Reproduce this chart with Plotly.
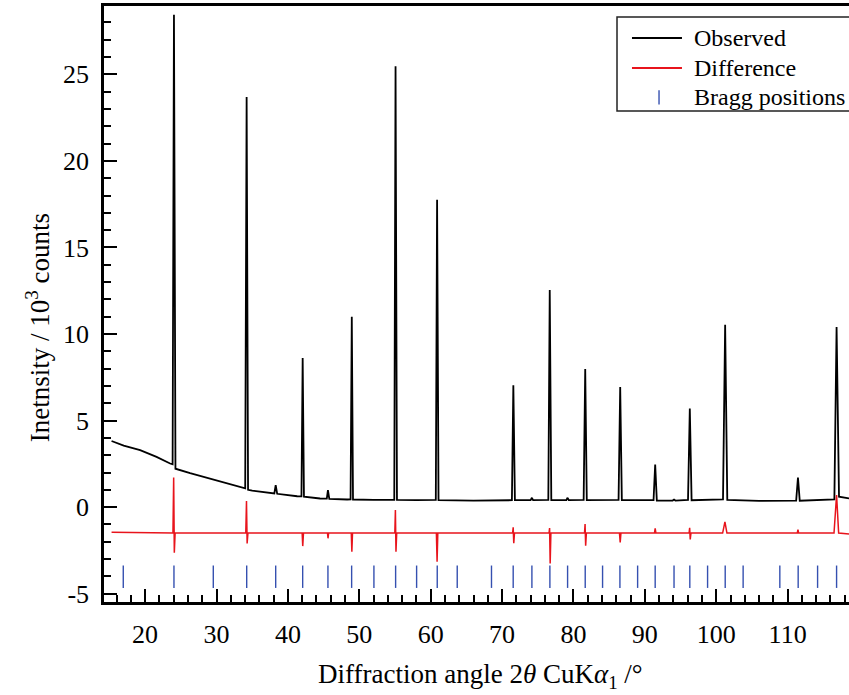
import plotly.graph_objects as go

# Observed pattern (2θ in degrees, intensity in 10^3 counts)
obs_x = [15.3, 17.0, 19.3, 21.6, 23.5, 23.85, 24.04, 24.25, 26.3, 30.9, 33.7, 34.02, 34.22, 34.42,
         35.0, 37.5, 38.1, 38.29, 38.5, 41.3, 41.9, 42.07, 42.25, 44.5, 45.45, 45.61, 45.8, 48.3,
         48.78, 48.95, 49.12, 52.0, 54.9, 55.08, 55.28, 58.0, 60.72, 60.9, 61.1, 66.0, 71.38, 71.58,
         71.8, 74.0, 74.18, 74.35, 76.48, 76.68, 76.9, 79.0, 79.18, 79.35, 81.43, 81.65, 81.87,
         86.32, 86.55, 86.78, 91.22, 91.45, 91.68, 93.9, 94.09, 94.28, 96.05, 96.3, 96.55, 100.95,
         101.25, 101.55, 106.0, 111.2, 111.45, 111.7, 116.55, 116.86, 117.2, 118.6]
obs_y = [3.82, 3.55, 3.29, 2.90, 2.52, 2.48, 28.45, 2.22, 1.96, 1.44, 1.10, 1.08, 23.7, 1.0,
         0.95, 0.81, 0.79, 1.27, 0.77, 0.63, 0.62, 8.61, 0.60, 0.50, 0.49, 0.98, 0.48, 0.44,
         0.45, 11.0, 0.44, 0.42, 0.42, 25.47, 0.42, 0.40, 0.42, 17.76, 0.40, 0.38, 0.40, 7.04,
         0.40, 0.40, 0.54, 0.40, 0.42, 12.55, 0.40, 0.40, 0.54, 0.40, 0.42, 7.98, 0.40,
         0.42, 6.94, 0.40, 0.40, 2.46, 0.38, 0.38, 0.44, 0.38, 0.42, 5.69, 0.40, 0.45,
         10.53, 0.42, 0.36, 0.38, 1.71, 0.37, 0.45, 10.4, 0.60, 0.50]

# Difference curve
diff_x = [15.3, 23.9, 24.0, 24.09, 24.2, 34.1, 34.2, 34.29, 34.4, 42.0, 42.08, 42.18, 45.55, 45.62,
          45.7, 48.88, 48.96, 49.05, 54.98, 55.06, 55.14, 55.24, 60.8, 60.9, 61.0, 71.48, 71.56,
          71.64, 71.74, 76.58, 76.66, 76.74, 76.84, 81.55, 81.63, 81.71, 81.81, 86.45, 86.55,
          86.65, 91.35, 91.45, 91.55, 96.2, 96.28, 96.36, 96.46, 100.9, 101.22, 101.5, 111.35,
          111.45, 111.55, 116.5, 116.86, 117.15, 118.6]
diff_y = [-1.45, -1.5, 1.71, -2.63, -1.5, -1.5, 0.36, -2.1, -1.5, -1.5, -2.25, -1.5, -1.5, -1.8,
          -1.5, -1.5, -2.58, -1.5, -1.5, -0.17, -2.58, -1.5, -1.5, -3.15, -1.5, -1.5, -1.17,
          -2.09, -1.5, -1.5, -1.21, -3.25, -1.5, -1.5, -0.98, -2.23, -1.5, -1.5, -2.04,
          -1.5, -1.5, -1.23, -1.5, -1.5, -1.2, -1.86, -1.5, -1.5, -0.85, -1.5, -1.5,
          -1.3, -1.5, -1.5, 0.7, -1.5, -1.55]

# Bragg reflection positions
bragg_x = [16.94, 24.04, 29.55, 34.23, 38.29, 42.07, 45.61, 48.93, 52.05, 55.09, 58.03, 60.92,
           63.72, 68.52, 71.56, 74.18, 76.70, 79.18, 81.65, 84.08, 86.51, 88.99, 91.45, 94.09,
           96.30, 98.79, 101.26, 103.77, 108.91, 111.48, 114.2, 116.86]
bragg_level = -4.02

x_ticks = [20, 30, 40, 50, 60, 70, 80, 90, 100, 110]
y_ticks = [-5, 0, 5, 10, 15, 20, 25]
y_ticktext = ["-5", "0", "5", "10", "15", "20", "25"]

legend_names = ["Observed", "Difference", "Bragg positions"]

FONT = "Liberation Serif, Times New Roman, serif"
BLACK = "black"
RED = "#e8141c"
BLUE = "#3550b0"

fig = go.Figure()
fig.add_trace(go.Scatter(x=obs_x, y=obs_y, mode="lines", name=legend_names[0],
                         line=dict(color=BLACK, width=1.8), showlegend=False))
fig.add_trace(go.Scatter(x=diff_x, y=diff_y, mode="lines", name=legend_names[1],
                         line=dict(color=RED, width=1.5), showlegend=False))
fig.add_trace(go.Scatter(x=bragg_x, y=[bragg_level] * len(bragg_x), mode="markers",
                         name=legend_names[2], showlegend=False,
                         marker=dict(symbol="line-ns", size=16, color=BLUE,
                                     line=dict(color=BLUE, width=1.4))))

axis_common = dict(showline=True, linecolor="black", linewidth=2.5, ticks="inside",
                   ticklen=13, tickwidth=2.2, tickcolor="black", showgrid=False, zeroline=False,
                   tickfont=dict(family=FONT, size=26, color="black"), ticklabelstandoff=7)

fig.update_xaxes(range=[14.24, 118.6], tickmode="array", tickvals=x_ticks,
                 ticktext=[str(v) for v in x_ticks], mirror=True,
                 minor=dict(ticks="inside", ticklen=7, tickwidth=2, tickcolor="black",
                            dtick=2, tick0=0, showgrid=False),
                 **axis_common)
fig.update_yaxes(range=[-5.48, 28.95], tickmode="array", tickvals=y_ticks,
                 ticktext=y_ticktext, mirror=False,
                 minor=dict(ticks="inside", ticklen=7, tickwidth=2, tickcolor="black",
                            dtick=1, tick0=0, showgrid=False),
                 **axis_common)

fig.add_annotation(text="Inetnsity / 10<sup>3</sup> counts", textangle=-90,
                   xref="paper", yref="paper", x=-0.0886, y=0.461,
                   xanchor="center", yanchor="middle", showarrow=False,
                   font=dict(family=FONT, size=27, color="black"))
fig.add_annotation(text="Diffraction angle 2<i>θ</i> CuK<i>α</i><sub>1</sub> /°",
                   xref="paper", yref="paper", x=0.505, y=-0.124,
                   xanchor="center", yanchor="middle", showarrow=False,
                   font=dict(family=FONT, size=27, color="black"))

# Hand-drawn legend box (right border falls outside the picture, as in the reference)
leg_x0, leg_x1 = 0.6886, 1.02
leg_y0, leg_y1 = 0.8238, 0.9815
row_y = [0.9463, 0.896, 0.8473]
sample_x0, sample_x1 = 0.7087, 0.7758
text_x = 0.7893
fig.add_shape(type="rect", xref="paper", yref="paper", x0=leg_x0, x1=leg_x1, y0=leg_y0, y1=leg_y1,
              line=dict(color="#222222", width=1.5), fillcolor="white", layer="above")
fig.add_shape(type="line", xref="paper", yref="paper", x0=sample_x0, x1=sample_x1,
              y0=row_y[0], y1=row_y[0], line=dict(color=BLACK, width=1.8))
fig.add_shape(type="line", xref="paper", yref="paper", x0=sample_x0, x1=sample_x1,
              y0=row_y[1], y1=row_y[1], line=dict(color=RED, width=1.8))
fig.add_shape(type="line", xref="paper", yref="paper", x0=0.745, x1=0.745,
              y0=row_y[2] - 0.0125, y1=row_y[2] + 0.0115, line=dict(color=BLUE, width=1.4))
for name, yy in zip(legend_names, row_y):
    fig.add_annotation(text=name, xref="paper", yref="paper", x=text_x, y=yy,
                       xanchor="left", yanchor="middle", showarrow=False,
                       font=dict(family=FONT, size=24, color="black"))

fig.update_layout(
    width=849, height=695,
    margin=dict(l=104, r=0, t=6, b=93),
    paper_bgcolor="white", plot_bgcolor="white",
    font=dict(family=FONT, color="black"),
    showlegend=False,
)

fig.write_html("out.html")
